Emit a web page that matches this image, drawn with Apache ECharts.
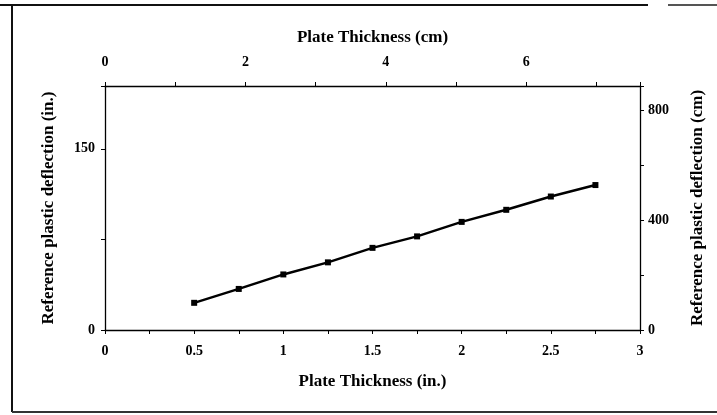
<!DOCTYPE html>
<html>
<head>
<meta charset="utf-8">
<script src="https://cdn.jsdelivr.net/npm/echarts@6/dist/echarts.min.js"></script>
<style>
html,body{margin:0;padding:0;background:#fff;}
#chart{width:717px;height:415px;}
</style>
</head>
<body>
<div id="chart"></div>
<script>
// Data
const thicknessIn = [0.5, 0.75, 1, 1.25, 1.5, 1.75, 2, 2.25, 2.5, 2.75];
const deflectionIn = [22.5, 34, 46, 56, 68, 77.5, 89.5, 99.5, 110.5, 120];
const bottomTicks = [0, 0.5, 1, 1.5, 2, 2.5, 3];
const topTicksCm = [0, 2, 4, 6];
const leftTicks = [0, 150];
const rightTicksCm = [0, 400, 800];

const FONT = '"Liberation Serif", "DejaVu Serif", serif';
const lbl = {color: '#000', fontFamily: FONT, fontWeight: 'bold', fontSize: 14};
const nameStyle = {color: '#000', fontFamily: FONT, fontWeight: 'bold', fontSize: 17};
const axLine = {show: true, onZero: false, lineStyle: {color: '#000', width: 1.3}};
const tick = {show: true, inside: false, length: 4, lineStyle: {color: '#000', width: 1}};
const minor = {show: true, splitNumber: 2, length: 4, lineStyle: {color: '#000', width: 1}};

const chart = echarts.init(document.getElementById('chart'), null, {renderer: 'canvas'});
chart.setOption({
  animation: false,
  backgroundColor: '#fff',
  grid: {left: 105, right: 77, top: 86, bottom: 85, containLabel: false},
  xAxis: [
    {
      type: 'value', position: 'bottom', min: 0, max: 3, interval: 0.5,
      name: 'Plate Thickness (in.)', nameLocation: 'middle', nameGap: 43, nameTextStyle: nameStyle,
      axisLine: axLine, axisTick: tick, minorTick: minor,
      axisLabel: Object.assign({margin: 14, formatter: v => bottomTicks.includes(v) ? String(v) : ''}, lbl),
      splitLine: {show: false}
    },
    {
      type: 'value', position: 'top', min: 0, max: 7.62, interval: 2,
      name: 'Plate Thickness (cm)', nameLocation: 'middle', nameGap: 40, nameTextStyle: nameStyle,
      axisLine: axLine, axisTick: tick, minorTick: minor,
      axisLabel: Object.assign({margin: 17, showMaxLabel: false, formatter: v => topTicksCm.includes(v) ? String(v) : ''}, lbl),
      splitLine: {show: false}
    }
  ],
  yAxis: [
    {
      type: 'value', position: 'left', min: 0, max: 202, interval: 150,
      name: 'Reference plastic deflection (in.)', nameLocation: 'middle', nameGap: 48, nameRotate: 90, nameTextStyle: nameStyle,
      axisLine: axLine, axisTick: tick, minorTick: minor,
      axisLabel: Object.assign({margin: 10, showMaxLabel: false, formatter: v => leftTicks.includes(v) ? String(v) : ''}, lbl),
      splitLine: {show: false}
    },
    {
      type: 'value', position: 'right', min: 0, max: 888, interval: 400,
      name: 'Reference plastic deflection (cm)', nameLocation: 'middle', nameGap: 49, nameRotate: 90, nameTextStyle: nameStyle,
      axisLine: axLine, axisTick: tick, minorTick: minor,
      axisLabel: Object.assign({margin: 8, showMaxLabel: false, formatter: v => rightTicksCm.includes(v) ? String(v) : ''}, lbl),
      splitLine: {show: false}
    }
  ],
  series: [{
    type: 'line',
    xAxisIndex: 0, yAxisIndex: 0,
    data: thicknessIn.map((x, i) => [x, deflectionIn[i]]),
    symbol: 'rect', symbolSize: 6, showSymbol: true,
    lineStyle: {color: '#000', width: 2.5},
    itemStyle: {color: '#000'}
  }],
  graphic: [
    {type: 'line', shape: {x1: 0, y1: 5, x2: 648, y2: 5}, style: {stroke: '#111', lineWidth: 2}},
    {type: 'line', shape: {x1: 668, y1: 5, x2: 717, y2: 5}, style: {stroke: '#555', lineWidth: 2}},
    {type: 'line', shape: {x1: 12, y1: 5, x2: 12, y2: 412}, style: {stroke: '#111', lineWidth: 2}},
    {type: 'line', shape: {x1: 12, y1: 412, x2: 717, y2: 412}, style: {stroke: '#333', lineWidth: 2}}
  ]
});
</script>
</body>
</html>
